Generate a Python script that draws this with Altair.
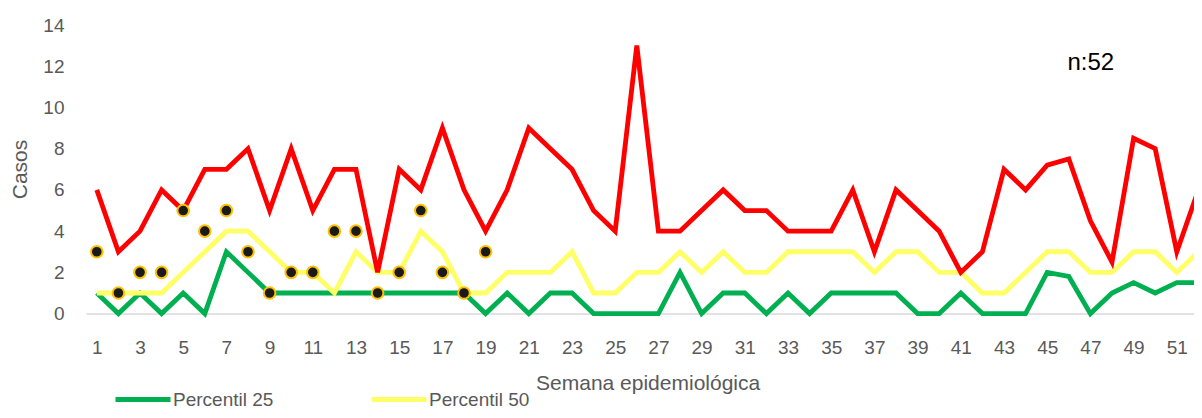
import altair as alt
import pandas as pd

weeks = list(range(1, 53))
p25 = [1, 0, 1, 0, 1, 0, 3, 2, 1, 1,
       1, 1, 1, 1, 1, 1, 1, 1, 0, 1,
       0, 1, 1, 0, 0, 0, 0, 2, 0, 1,
       1, 0, 1, 0, 1, 1, 1, 1, 0, 0,
       1, 0, 0, 0, 2, 1.8, 0, 1, 1.5, 1,
       1.5, 1.5]
p50 = [1, 1, 1, 1, 2, 3, 4, 4, 3, 2,
       2, 1, 3, 2, 2, 4, 3, 1, 1, 2,
       2, 2, 3, 1, 1, 2, 2, 3, 2, 3,
       2, 2, 3, 3, 3, 3, 2, 3, 3, 2,
       2, 1, 1, 2, 3, 3, 2, 2, 3, 3,
       2, 3]
p75 = [6, 3, 4, 6, 5, 7, 7, 8, 5, 8,
       5, 7, 7, 2, 7, 6, 9, 6, 4, 6,
       9, 8, 7, 5, 4, 13, 4, 4, 5, 6,
       5, 5, 4, 4, 4, 6, 3, 6, 5, 4,
       2, 3, 7, 6, 7.2, 7.5, 4.5, 2.5, 8.5, 8,
       3, 6]
case_weeks = list(range(1, 20))
cases = [3, 1, 2, 2, 5, 4, 5, 3, 1, 2, 2, 4, 4, 1, 2, 5, 2, 1, 3]

series_names = ["Percentil 25", "Percentil 50", "Percentil 75"]
series_colors = ["#00B050", "#FFFF66", "#FF0000"]
legend_shown = ["Percentil 25", "Percentil 50"]

FONT = "Liberation Sans, Arial, sans-serif"
GREY = "#595959"

rows = []
for i, (name, vals) in enumerate(zip(series_names, [p25, p50, p75])):
    for w, v in zip(weeks, vals):
        rows.append({"semana": w, "casos": v, "serie": name, "orden": i})
lines_df = pd.DataFrame(rows)
cases_df = pd.DataFrame({"semana": case_weeks, "casos": cases})
note_df = pd.DataFrame({"semana": [47.02], "casos": [11.83], "txt": ["n:52"]})

xscale = alt.Scale(domain=[0.5, 52.5], range=[0, 1123.2], nice=False, zero=False)
yscale = alt.Scale(domain=[0, 14], nice=False)

xaxis = alt.Axis(values=list(range(1, 52, 2)), title="Semana epidemiológica",
                 labelFont=FONT, labelFontSize=19, labelColor=GREY, labelPadding=25,
                 labelOverlap=False, labelFlush=False,
                 ticks=False, grid=False, domainColor="#D9D9D9", domainWidth=1.5,
                 titleFont=FONT, titleFontSize=21, titleColor=GREY, titleFontWeight="normal",
                 titleY=75.4, titleBaseline="alphabetic")
yaxis = alt.Axis(values=list(range(0, 15, 2)), title="Casos",
                 labelFont=FONT, labelFontSize=19, labelColor=GREY, labelPadding=22,
                 ticks=False, grid=False, domain=False,
                 titleFont=FONT, titleFontSize=21, titleColor=GREY, titleFontWeight="normal",
                 titleX=-66, titleY=144, titleBaseline="middle", titleAngle=270)

lines = alt.Chart(lines_df).mark_line(strokeWidth=4.8).encode(
    x=alt.X("semana:Q", scale=xscale, axis=xaxis),
    y=alt.Y("casos:Q", scale=yscale, axis=yaxis),
    color=alt.Color("serie:N",
                    scale=alt.Scale(domain=series_names, range=series_colors),
                    legend=alt.Legend(title=None, orient="none", legendX=27, legendY=344.5,
                                      direction="horizontal", columns=2, padding=0,
                                      values=legend_shown,
                                      symbolType="stroke", symbolSize=3025,
                                      symbolStrokeWidth=5, labelFont=FONT,
                                      labelFontSize=19, labelColor=GREY,
                                      labelOffset=0, columnPadding=87)),
    order=alt.Order("semana:Q"),
    detail="orden:Q",
)

dots = alt.Chart(cases_df).mark_point(filled=True, size=135, fill="#1A1A1A",
                                      stroke="#FFC000", strokeWidth=2, opacity=1).encode(
    x=alt.X("semana:Q", scale=xscale),
    y=alt.Y("casos:Q", scale=yscale),
)

note = alt.Chart(note_df).mark_text(font=FONT, fontSize=24, color="#000000",
                                    align="center", baseline="alphabetic").encode(
    x=alt.X("semana:Q", scale=xscale),
    y=alt.Y("casos:Q", scale=yscale),
    text="txt:N",
)

chart = alt.layer(lines, dots, note).properties(
    width=1108, height=288.6,
    autosize=alt.AutoSizeParams(type="none"),
    padding={"left": 78, "top": 17, "right": 0, "bottom": 96.4},
).configure_view(stroke=None)

chart.save("out.html", embed_options={"renderer": "svg", "actions": False})
